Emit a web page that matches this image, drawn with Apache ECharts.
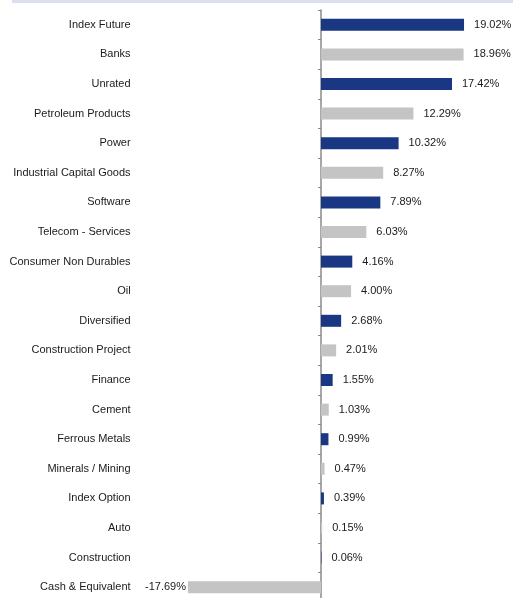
<!DOCTYPE html>
<html>
<head>
<meta charset="utf-8">
<script src="https://cdn.jsdelivr.net/npm/echarts@6/dist/echarts.min.js"></script>
<style>
    html, body { margin: 0; padding: 0; background: #fff; }
    #barChart { width: 513px; height: 598px; }
</style>
</head>
<body>
<div id="barChart"></div>
<script>
// sectors, top to bottom
var categories = ['Index Future', 'Banks', 'Unrated', 'Petroleum Products', 'Power',
    'Industrial Capital Goods', 'Software', 'Telecom - Services', 'Consumer Non Durables', 'Oil',
    'Diversified', 'Construction Project', 'Finance', 'Cement', 'Ferrous Metals',
    'Minerals / Mining', 'Index Option', 'Auto', 'Construction', 'Cash & Equivalent'];
var weights = [19.02, 18.96, 17.42, 12.29, 10.32, 8.27, 7.89, 6.03, 4.16, 4.00,
    2.68, 2.01, 1.55, 1.03, 0.99, 0.47, 0.39, 0.15, 0.06, -17.69];

var blue = '#1a3784';
var grey = '#c4c4c4';
var fontColor = '#1a1a1a';
var fontFamily = 'Liberation Sans, Arial, sans-serif';

var chart = echarts.init(document.getElementById('barChart'));

var seriesData = weights.map(function (v, i) {
    return {
        value: v,
        itemStyle: { color: i % 2 === 0 ? blue : grey },
        label: v < 0 ? { position: 'left', distance: 2 } : { position: 'right', distance: 10 }
    };
});

var option = {
    animation: false,
    backgroundColor: '#fff',
    textStyle: { fontFamily: fontFamily },
    graphic: [{
        type: 'rect',
        shape: { x: 12, y: 0, width: 501, height: 3 },
        style: { fill: '#dcdff1' },
        silent: true
    }],
    grid: {
        left: 170.6,
        width: 300.8,
        top: 10,
        height: 592,
        containLabel: false,
        outerBoundsMode: 'none'
    },
    xAxis: {
        type: 'value',
        min: -20,
        max: 20,
        show: false
    },
    yAxis: {
        type: 'category',
        inverse: true,
        data: categories,
        axisLine: {
            show: true,
            onZero: true,
            lineStyle: { color: '#8a8a8a', width: 1.5 }
        },
        axisTick: {
            show: true,
            length: 3,
            lineStyle: { color: '#8a8a8a' }
        },
        axisLabel: {
            margin: 40,
            color: fontColor,
            fontSize: 11,
            fontFamily: fontFamily
        },
        splitLine: { show: false }
    },
    series: [{
        type: 'bar',
        barWidth: 12,
        data: seriesData,
        label: {
            show: true,
            color: fontColor,
            fontSize: 11,
            fontFamily: fontFamily,
            formatter: function (p) {
                return p.value.toFixed(2) + '%';
            }
        }
    }]
};

chart.setOption(option);
</script>
</body>
</html>
